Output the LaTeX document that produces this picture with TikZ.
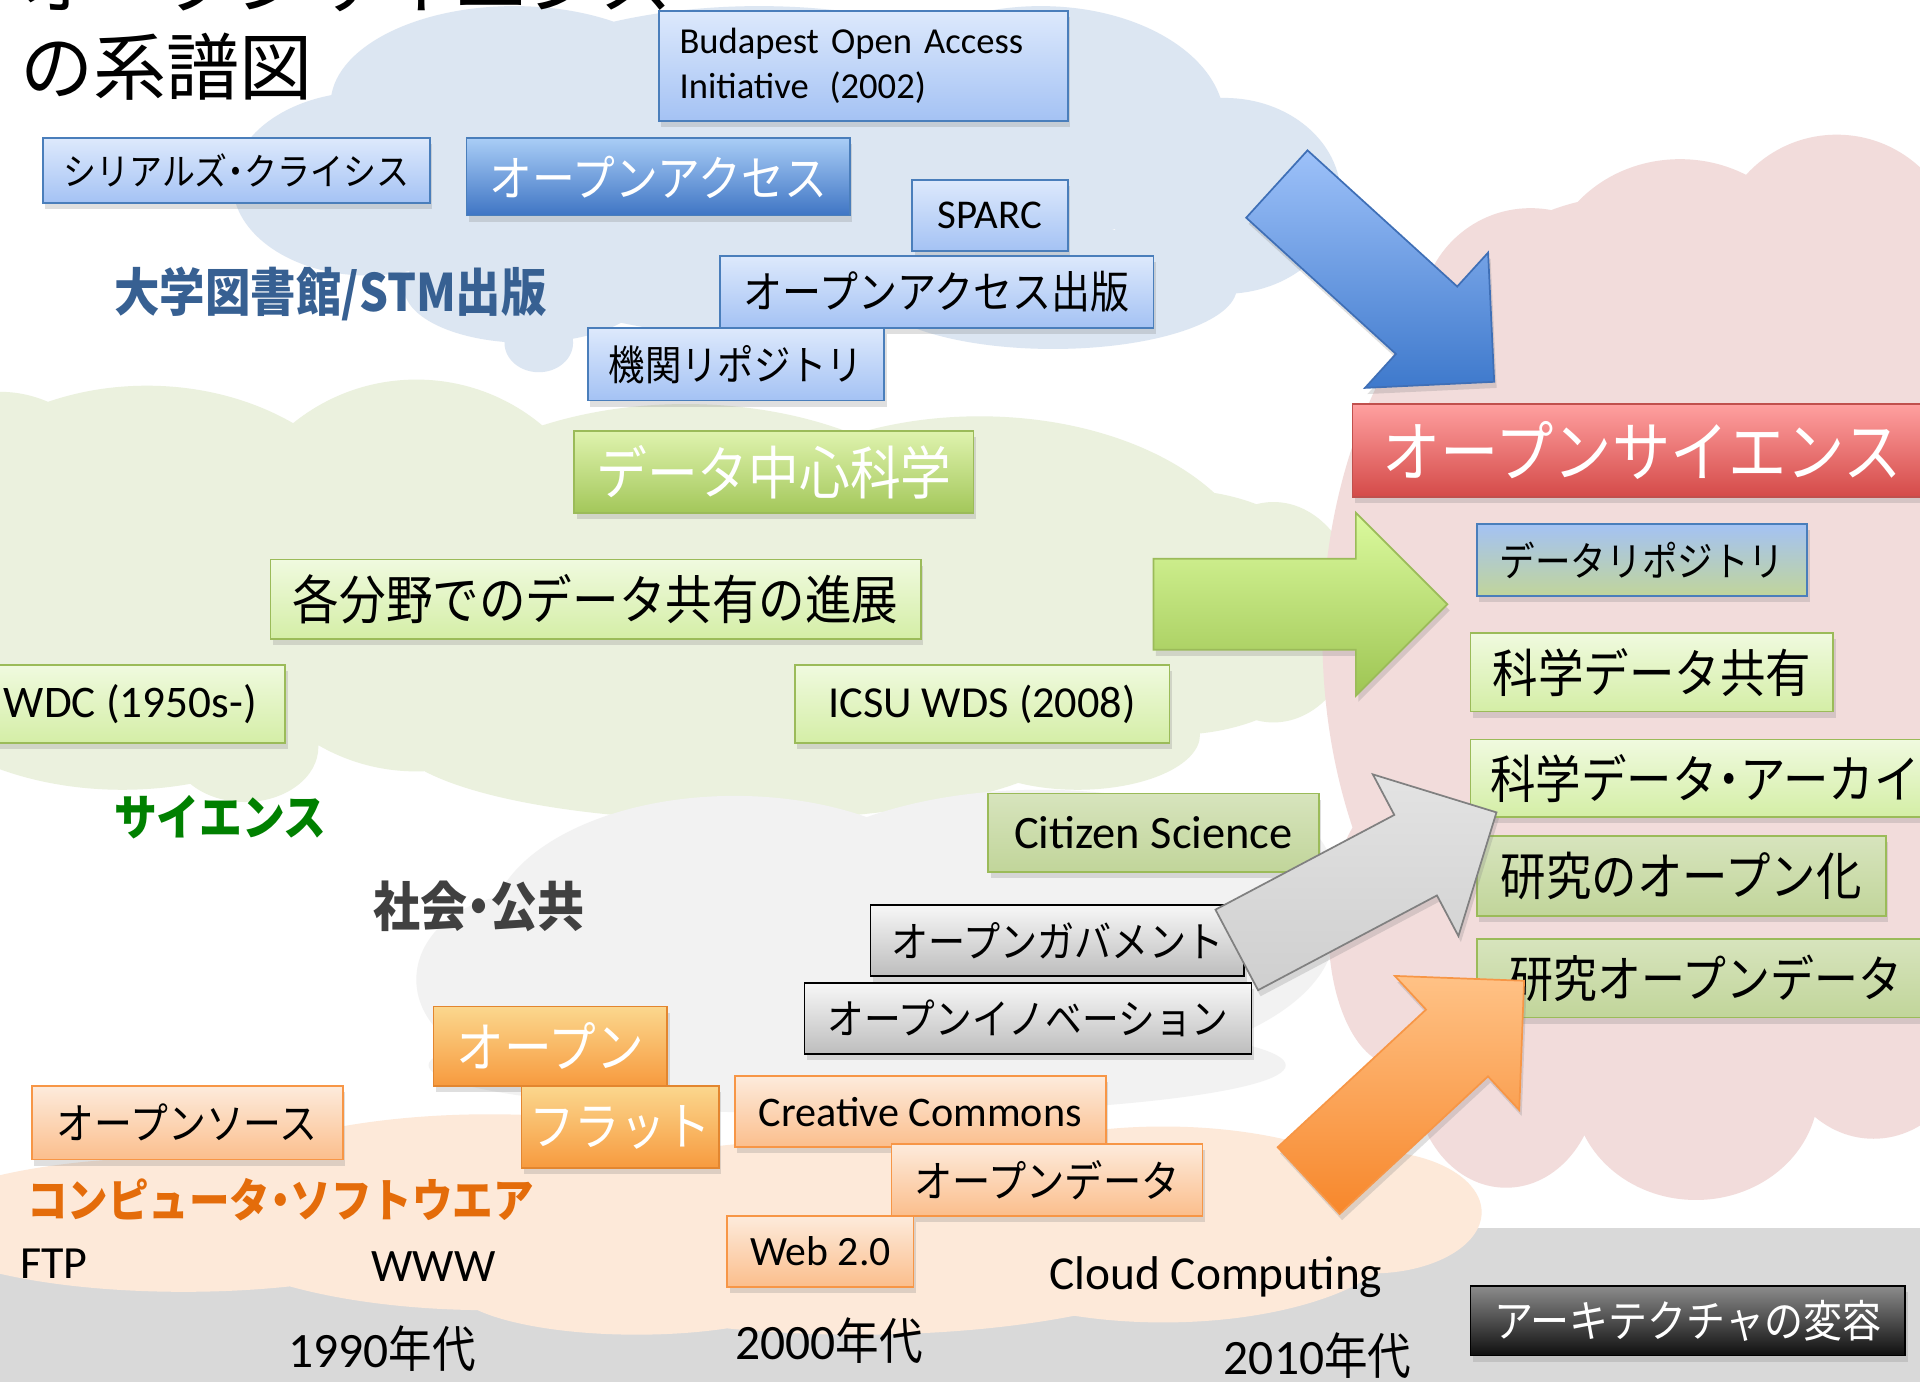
\documentclass[tikz,border=0pt]{standalone}
\usepackage{fontspec}
\setmainfont{Carlito}
\newfontfamily\jp[FakeStretch=0.88]{Noto Sans CJK JP}
\newfontfamily\jptitre{Noto Sans CJK JP}
\usetikzlibrary{shapes.arrows,shadows}

\newcommand{\policeJ}[1]{\jp\fontsize{#1}{12}\selectfont}
\newcommand{\policeL}[1]{\fontsize{#1}{12}\selectfont}
\newcommand{\pointJ}{{\addfontfeatures{RawFeature=+palt}・}}

\definecolor{nuageBleu}{HTML}{DCE6F2}
\definecolor{nuageVert}{HTML}{EBF1DE}
\definecolor{nuageGris}{HTML}{F2F2F2}
\definecolor{nuageOrange}{HTML}{FDE9D9}
\definecolor{nuageRose}{HTML}{F2DCDB}
\definecolor{bande}{HTML}{D9D9D9}
\definecolor{bordBleu}{HTML}{4A7EBB}
\definecolor{bleuHaut}{HTML}{DDE9FC}
\definecolor{bleuBas}{HTML}{A4C2F4}
\definecolor{oaHaut}{HTML}{A9CDF6}
\definecolor{oaBas}{HTML}{3F75C4}
\definecolor{bordVert}{HTML}{9BBB59}
\definecolor{vertHaut}{HTML}{F0FADF}
\definecolor{vertBas}{HTML}{D4EEA6}
\definecolor{dcsHaut}{HTML}{DFF3AE}
\definecolor{dcsBas}{HTML}{A3C75A}
\definecolor{vmHaut}{HTML}{D7E4BD}
\definecolor{vmBas}{HTML}{C1D59A}
\definecolor{grisHaut}{HTML}{F7F7F7}
\definecolor{grisBas}{HTML}{BDBDBD}
\definecolor{bordOrange}{HTML}{F79646}
\definecolor{orHaut}{HTML}{FDEBDC}
\definecolor{orBas}{HTML}{FBBE8C}
\definecolor{bordOrange2}{HTML}{E3862F}
\definecolor{ofHaut}{HTML}{FBD78E}
\definecolor{ofBas}{HTML}{F79A3E}
\definecolor{bordRouge}{HTML}{C0504D}
\definecolor{rgHaut}{HTML}{FFA0A0}
\definecolor{rgBas}{HTML}{D44A48}
\definecolor{noirHaut}{HTML}{8C8C8C}
\definecolor{noirBas}{HTML}{0F0F0F}
\definecolor{stmBleu}{HTML}{376092}
\definecolor{sciVert}{HTML}{008000}
\definecolor{socGris}{HTML}{404040}
\definecolor{cmpOrange}{HTML}{E46C0A}
\definecolor{fbBord}{HTML}{3F6FB6}
\definecolor{fbHaut}{HTML}{9DC1F9}
\definecolor{fbBas}{HTML}{3E79CC}
\definecolor{fvHaut}{HTML}{DBFA9E}
\definecolor{fvBas}{HTML}{9EC553}
\definecolor{fgBord}{HTML}{808080}
\definecolor{fgHaut}{HTML}{E3E3E3}
\definecolor{fgBas}{HTML}{CFCFCF}
\definecolor{foHaut}{HTML}{FFC286}
\definecolor{foBas}{HTML}{F7872B}

\tikzstyle{ombre}=[drop shadow={shadow xshift=0.2mm,shadow yshift=-0.5mm,opacity=0.25}]
\tikzstyle{boite}=[rectangle,draw,line width=0.4pt,inner sep=0pt,ombre]
\tikzstyle{bleuClair}=[boite,draw=bordBleu,top color=bleuHaut,bottom color=bleuBas]
\tikzstyle{bleuFonce}=[boite,draw=bordBleu,top color=oaHaut,bottom color=oaBas,text=white]
\tikzstyle{bleuVert}=[boite,draw=bordBleu,top color=bleuBas,bottom color=vmBas]
\tikzstyle{vertClair}=[boite,draw=bordVert,top color=vertHaut,bottom color=vertBas]
\tikzstyle{vertFonce}=[boite,draw=bordVert,top color=dcsHaut,bottom color=dcsBas,text=white]
\tikzstyle{vertMoyen}=[boite,draw=bordVert,top color=vmHaut,bottom color=vmBas]
\tikzstyle{gris}=[boite,draw=black,top color=grisHaut,bottom color=grisBas]
\tikzstyle{orangeClair}=[boite,draw=bordOrange,top color=orHaut,bottom color=orBas]
\tikzstyle{orangeFonce}=[boite,draw=bordOrange2,top color=ofHaut,bottom color=ofBas,text=white]
\tikzstyle{rouge}=[boite,draw=bordRouge,top color=rgHaut,bottom color=rgBas,text=white]
\tikzstyle{noir}=[boite,draw=black,top color=noirHaut,bottom color=noirBas,text=white]
\tikzstyle{etiquette}=[inner sep=0pt]
\tikzstyle{fleche}=[single arrow,anchor=tip,minimum height=24mm,inner xsep=0pt,inner ysep=3.65mm,
single arrow head extend=3.75mm,line width=0.4pt,ombre]

\begin{document}
\begin{tikzpicture}[x=0.1mm,y=-0.1mm]
\useasboundingbox (0,0) rectangle (1568,1129);
\fill[white] (0,0) rectangle (1568,1129);
\fill[bande] (0,1003) rectangle (1568,1129);

% nuages
\fill[nuageBleu] (420,85) ellipse [x radius=15mm,y radius=8mm]
 (300,150) ellipse [x radius=11mm,y radius=7.5mm]
 (430,235) ellipse [x radius=10mm,y radius=4.5mm]
 (440,280) ellipse [x radius=2.8mm,y radius=2.4mm]
 (620,140) ellipse [x radius=28mm,y radius=13.5mm]
 (850,100) ellipse [x radius=15mm,y radius=9.5mm]
 (1000,160) ellipse [x radius=9.5mm,y radius=8mm]
 (860,235) ellipse [x radius=15mm,y radius=5mm];
\fill[nuageVert] (0,470) ellipse [x radius=12mm,y radius=15mm]
 (120,470) ellipse [x radius=20mm,y radius=15.5mm]
 (100,520) ellipse [x radius=20mm,y radius=12.5mm]
 (340,470) ellipse [x radius=16mm,y radius=16mm]
 (560,480) ellipse [x radius=25mm,y radius=15mm]
 (800,480) ellipse [x radius=23mm,y radius=14mm]
 (960,500) ellipse [x radius=14mm,y radius=10mm]
 (1040,500) ellipse [x radius=7mm,y radius=9mm]
 (200,610) ellipse [x radius=6mm,y radius=4.5mm]
 (600,600) ellipse [x radius=28mm,y radius=7mm]
 (880,600) ellipse [x radius=10mm,y radius=4.5mm];
\fill[nuageGris] (600,760) ellipse [x radius=20mm,y radius=11mm]
 (430,800) ellipse [x radius=9mm,y radius=7mm]
 (850,760) ellipse [x radius=24mm,y radius=11.5mm]
 (1000,720) ellipse [x radius=9mm,y radius=7mm]
 (700,870) ellipse [x radius=35mm,y radius=4mm];
\fill[nuageOrange] (150,1000) ellipse [x radius=22mm,y radius=5.5mm]
 (400,990) ellipse [x radius=25mm,y radius=8mm]
 (700,1010) ellipse [x radius=30mm,y radius=8mm]
 (950,1000) ellipse [x radius=20mm,y radius=8mm]
 (1120,990) ellipse [x radius=9mm,y radius=5mm]
 (520,1050) ellipse [x radius=15mm,y radius=4mm];
\fill[nuageRose] (1330,520) ellipse [x radius=25mm,y radius=36mm]
 (1500,560) ellipse [x radius=12mm,y radius=33mm]
 (1530,300) ellipse [x radius=8mm,y radius=8mm]
 (1250,260) ellipse [x radius=9mm,y radius=9mm]
 (1372,230) ellipse [x radius=11mm,y radius=10mm]
 (1500,210) ellipse [x radius=10mm,y radius=10mm]
 (1580,240) ellipse [x radius=6mm,y radius=10mm]
 (1140,760) ellipse [x radius=5.5mm,y radius=11mm]
 (1230,880) ellipse [x radius=7.5mm,y radius=9mm]
 (1385,890) ellipse [x radius=10mm,y radius=9mm]
 (1530,840) ellipse [x radius=8mm,y radius=9mm];

% titre
\node[etiquette,anchor=base west,font=\jptitre\fontsize{17}{20}\selectfont] (titre1) at (16,7) {オープンサイエンス};
\node[etiquette,anchor=base west,font=\jptitre\fontsize{17}{20}\selectfont] (titre2) at (16,77) {の系譜図};

% acces ouvert
\node[bleuClair,minimum width=33.4mm,minimum height=9mm,text width=30mm,align=left,font=\fontsize{8.5}{10.5}\selectfont] (boai) at (705,54) {Budapest Open Access\\Initiative\hspace{1.7mm}(2002)};
\node[bleuClair,minimum width=31.6mm,minimum height=5.3mm,font=\policeJ{8.7}] (serials) at (193,139.5) {シリアルズ\pointJ クライシス};
\node[bleuFonce,minimum width=31.3mm,minimum height=6.3mm,font=\policeJ{11.3}] (oa) at (537.5,144.5) {オープンアクセス};
\node[bleuClair,minimum width=12.7mm,minimum height=5.8mm,font=\policeL{9.5}] (sparc) at (808.5,176) {SPARC};
\node[etiquette,text=stmBleu,font=\policeJ{12}\bfseries] (stm) at (270,240) {大学図書館/STM出版};
\node[bleuClair,minimum width=35.4mm,minimum height=5.9mm,font=\policeJ{10.3}] (oapub) at (765,238.5) {オープンアクセス出版};
\node[bleuClair,minimum width=24.2mm,minimum height=5.9mm,font=\policeJ{9.6}] (ir) at (601,297.5) {機関リポジトリ};

% science
\node[vertFonce,minimum width=32.6mm,minimum height=6.7mm,font=\policeJ{13.4}] (dcs) at (632,385.5) {データ中心科学};
\node[vertClair,minimum width=53.1mm,minimum height=6.5mm,font=\policeJ{12.3}] (partage) at (486.5,489.5) {各分野でのデータ共有の進展};
\node[vertClair,minimum width=25.3mm,minimum height=6.4mm,font=\policeL{10.5}] (wdc) at (106.5,575) {WDC (1950s-)};
\node[vertClair,minimum width=30.6mm,minimum height=6.4mm,font=\policeL{10.3}] (icsu) at (802,575) {ICSU WDS (2008)};
\node[etiquette,text=sciVert,font=\policeJ{11.3}\bfseries] (science) at (180,667) {サイエンス};

% societe
\node[etiquette,text=socGris,font=\policeJ{12.4}\bfseries] (societe) at (391,740) {社会\pointJ 公共};
\node[vertMoyen,minimum width=27mm,minimum height=6.4mm,font=\policeL{10.8}] (citizen) at (942,680) {Citizen Science};
\node[gris,minimum width=30.5mm,minimum height=5.8mm,font=\policeJ{9.8}] (gov) at (863.5,768) {オープンガバメント};
\node[gris,minimum width=36.5mm,minimum height=5.8mm,font=\policeJ{9.7}] (innov) at (839.5,832) {オープンイノベーション};

% logiciel
\node[orangeClair,minimum width=25.4mm,minimum height=6mm,font=\policeJ{10}] (oss) at (153,917) {オープンソース};
\node[orangeFonce,minimum width=19.1mm,minimum height=6.5mm,font=\policeJ{12.6}] (ouvert) at (449.5,854.5) {オープン};
\node[orangeFonce,minimum width=16.1mm,minimum height=6.7mm,font=\policeJ{12}] (plat) at (506.5,920.5) {フラット};
\node[etiquette,text=cmpOrange,font=\policeJ{10.7}\bfseries] (logiciel) at (229,980) {コンピュータ\pointJ ソフトウエア};
\node[orangeClair,minimum width=30.3mm,minimum height=5.8mm,font=\policeL{9.8}] (cc) at (751.5,908) {Creative Commons};
\node[orangeClair,minimum width=25.4mm,minimum height=5.9mm,font=\policeJ{10.1}] (od) at (855,963.5) {オープンデータ};
\node[orangeClair,minimum width=15.2mm,minimum height=5.8mm,font=\policeL{9.7}] (web) at (670,1022) {Web 2.0};
\node[etiquette,font=\policeL{10.7}] (ftp) at (44,1032) {FTP};
\node[etiquette,font=\policeL{10.8}] (www) at (354,1034) {WWW};
\node[etiquette,font=\policeL{11}] (cloud) at (993,1043) {Cloud Computing};

% decennies
\node[etiquette,font=\policeL{11.5}] (an1990) at (312,1101) {1990{\jp 年代}};
\node[etiquette,font=\policeL{11.5}] (an2000) at (677,1095) {2000{\jp 年代}};
\node[etiquette,font=\policeL{11.5}] (an2010) at (1076,1107) {2010{\jp 年代}};
\node[noir,minimum width=35.5mm,minimum height=5.7mm,font=\policeJ{10.3}] (archi) at (1378.5,1078.5) {アーキテクチャの変容};

% science ouverte
\node[rouge,minimum width=47.3mm,minimum height=7.6mm,font=\policeJ{15.4}] (os) at (1341,368) {オープンサイエンス};
\node[bleuVert,minimum width=27mm,minimum height=5.9mm,font=\policeJ{9.4}] (depot) at (1341,457.5) {データリポジトリ};
\node[vertClair,minimum width=29.6mm,minimum height=6.4mm,font=\policeJ{12}] (sds) at (1349,549) {科学データ共有};
\node[vertClair,minimum width=42mm,minimum height=6.3mm,font=\policeJ{12}] (archive) at (1411,635.5) {科学データ\pointJ アーカイブ};
\node[vertMoyen,minimum width=33.4mm,minimum height=6.5mm,font=\policeJ{12}] (ouverture) at (1373,715.5) {研究のオープン化};
\node[vertMoyen,minimum width=37.4mm,minimum height=6.4mm,font=\policeJ{11.6}] (rod) at (1393,799) {研究オープンデータ};

% fleches
\node[fleche,draw=fbBord,top color=fbHaut,bottom color=fbBas,rotate=-42.3] (fBleue) at (1221,312.5) {};
\node[fleche,draw=bordVert,top color=fvHaut,bottom color=fvBas] (fVerte) at (1183,493.5) {};
\node[fleche,draw=fgBord,top color=fgHaut,bottom color=fgBas,rotate=27.9] (fGrise) at (1223,663) {};
\node[fleche,draw=bordOrange,top color=foHaut,bottom color=foBas,rotate=42.85] (fOrange) at (1245.4,800.3) {};
\end{tikzpicture}
\end{document}
